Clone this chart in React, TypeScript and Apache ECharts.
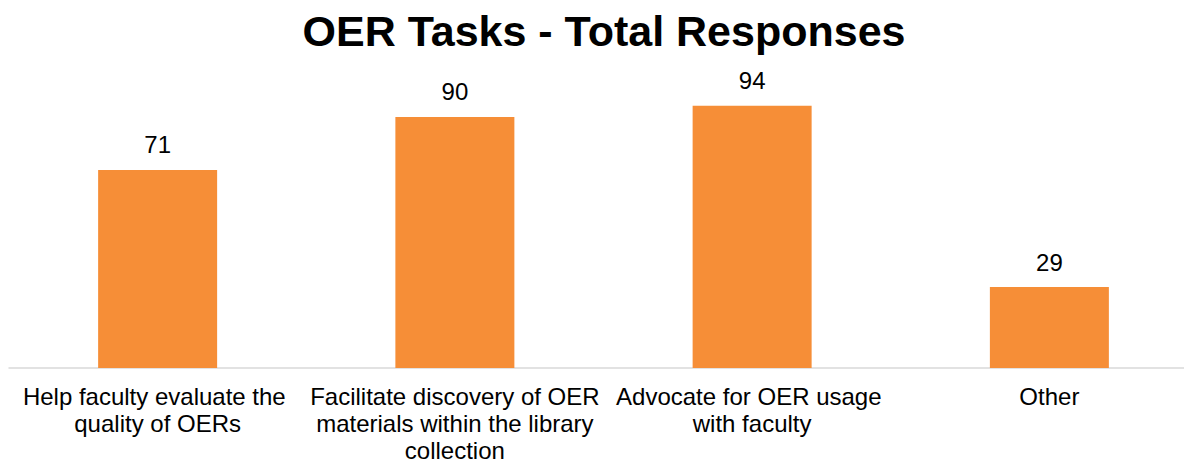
import React, { useEffect, useRef } from "react";
import * as echarts from "echarts";

const categories = [
  "Help faculty evaluate the quality of OERs",
  "Facilitate discovery of OER materials within the library collection",
  "Advocate for OER usage with faculty",
  "Other",
];
const values = [71, 90, 94, 29];
const titleText = "OER Tasks - Total Responses";

const FONT = "Liberation Sans, Arial, Helvetica, sans-serif";

export default function App() {
  const ref = useRef<HTMLDivElement>(null);
  useEffect(() => {
    if (!ref.current) return;
    const chart = echarts.init(ref.current, null, { renderer: "svg" });
    chart.setOption({
      animation: false,
      backgroundColor: "#ffffff",
      graphic: [
        {
          type: "text",
          x: 604,
          y: 9,
          style: {
            text: titleText,
            textAlign: "center",
            textVerticalAlign: "top",
            fontFamily: FONT,
            fontSize: 43,
            fontWeight: "bold",
            fill: "#000000",
          },
        },
      ],
      grid: {
        left: 9,
        right: 0,
        top: 89,
        bottom: 92,
        containLabel: false,
        outerBoundsMode: "none",
      },
      xAxis: {
        type: "category",
        data: categories,
        axisLine: { show: true, lineStyle: { color: "#D9D9D9", width: 1.5 } },
        axisTick: { show: false },
        axisLabel: {
          interval: 0,
          width: 296,
          overflow: "break",
          margin: 15,
          fontFamily: FONT,
          fontSize: 24,
          lineHeight: 27,
          color: "#000000",
          align: "center",
        },
      },
      yAxis: {
        type: "value",
        min: 0,
        max: 100,
        show: false,
        splitLine: { show: false },
      },
      series: [
        {
          type: "bar",
          data: values,
          barWidth: 119,
          itemStyle: { color: "#F68E37" },
          label: {
            show: true,
            position: "top",
            distance: 13,
            fontFamily: FONT,
            fontSize: 24,
            color: "#000000",
          },
        },
      ],
    });
    return () => chart.dispose();
  }, []);
  return (
    <div
      style={{
        position: "absolute",
        left: 0,
        top: 0,
        width: 1184,
        height: 460,
        overflow: "hidden",
        background: "#ffffff",
      }}
    >
      <div ref={ref} style={{ width: 1198, height: 460 }} />
    </div>
  );
}
